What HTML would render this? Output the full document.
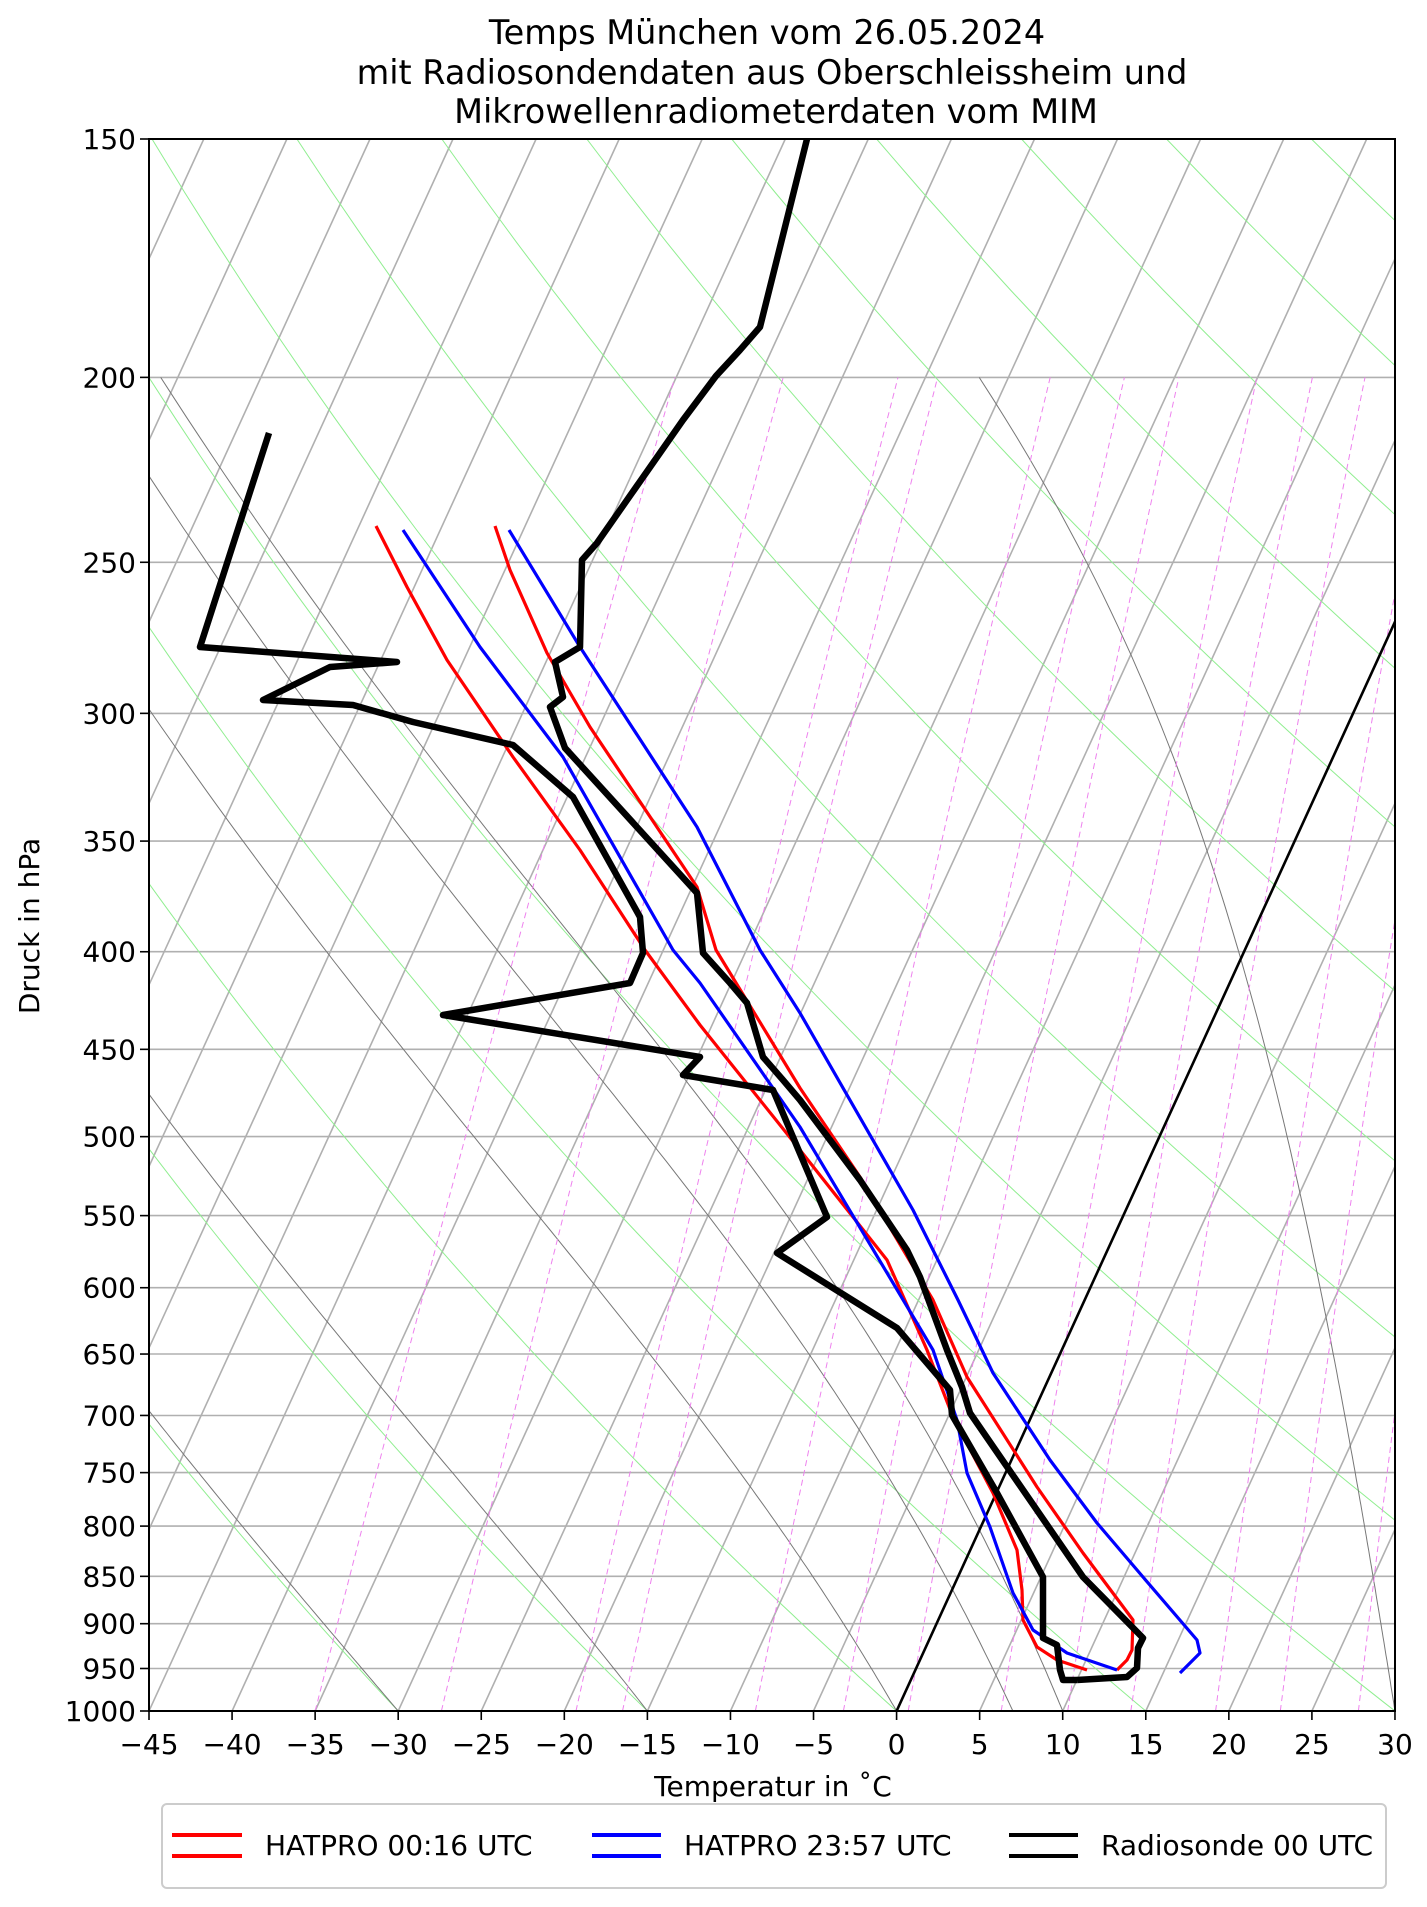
<!DOCTYPE html>
<html><head><meta charset="utf-8"><style>
html,body{margin:0;padding:0;background:#fff;}
svg{display:block;}
text{font-family:"DejaVu Sans","Liberation Sans",sans-serif;fill:#000;}
</style></head><body>
<svg id="s" xmlns="http://www.w3.org/2000/svg" width="1427" height="1907" viewBox="0 0 1427 1907">
<defs><clipPath id="c"><rect x="149" y="139" width="1246" height="1572"/></clipPath></defs>
<rect width="1427" height="1907" fill="#fff"/>
<g id="bg" clip-path="url(#c)"></g>
<g id="data" clip-path="url(#c)" fill="none" stroke-linejoin="round"></g>
<g id="ax"></g>
<text x="767" y="44" font-size="33.5" text-anchor="middle">Temps München vom 26.05.2024</text>
<text x="772" y="84" font-size="33.5" text-anchor="middle">mit Radiosondendaten aus Oberschleissheim und</text>
<text x="776" y="123" font-size="33.5" text-anchor="middle">Mikrowellenradiometerdaten vom MIM</text>
<text x="773" y="1796" font-size="28" text-anchor="middle">Temperatur in ˚C</text>
<text transform="translate(39,926) rotate(-90)" font-size="28" text-anchor="middle">Druck in hPa</text>
<rect x="162" y="1804" width="1224" height="84" rx="5" fill="#fff" stroke="#cccccc" stroke-width="2"/>
<g stroke-width="4">
<line x1="172" y1="1835" x2="242" y2="1835" stroke="#ff0000"/><line x1="172" y1="1856" x2="242" y2="1856" stroke="#ff0000"/>
<line x1="592" y1="1835" x2="661" y2="1835" stroke="#0000ff"/><line x1="592" y1="1856" x2="661" y2="1856" stroke="#0000ff"/>
<line x1="1009" y1="1835" x2="1078" y2="1835" stroke="#000"/><line x1="1009" y1="1856" x2="1078" y2="1856" stroke="#000"/>
</g>
<text x="265" y="1855" font-size="28">HATPRO 00:16 UTC</text>
<text x="684" y="1855" font-size="28">HATPRO 23:57 UTC</text>
<text x="1101" y="1855" font-size="28">Radiosonde 00 UTC</text>
</svg>
<script>
(function(){
var L=149,R=1395,T=139,B=1711,NS="http://www.w3.org/2000/svg";
var LN=Math.log(1000/150);
function Y(p){return B-(Math.log(1000/p)/LN)*(B-T);}
function X(t,p){return L+(t+45)*16.613+0.4576*(B-Y(p));}
function el(g,tag,a){var e=document.createElementNS(NS,tag);for(var k in a)e.setAttribute(k,a[k]);g.appendChild(e);return e;}
var bg=document.getElementById('bg'),ax=document.getElementById('ax'),dg=document.getElementById('data');
function poly(g,pts,st){var d=pts.map(function(q,i){return (i?'L':'M')+q[0].toFixed(1)+' '+q[1].toFixed(1);}).join('');st.d=d;st.fill='none';el(g,'path',st);}
for(var t=-150;t<=30;t+=5){poly(bg,[[X(t,1000),Y(1000)],[X(t,150),Y(150)]],{stroke:'#b0b0b0','stroke-width':1.6});}
var P=[150,200,250,300,350,400,450,500,550,600,650,700,750,800,850,900,950,1000];
P.forEach(function(p){poly(bg,[[L,Y(p)],[R,Y(p)]],{stroke:'#b0b0b0','stroke-width':1.6});});
for(var th=-30;th<=300;th+=15){var pts=[];for(var p=1000;p>=150;p-=10){var Tk=(th+273.15)*Math.pow(p/1000,0.2857)-273.15;pts.push([X(Tk,p),Y(p)]);}poly(bg,pts,{stroke:'#90ee90','stroke-width':1});}
function es(Tk){var tc=Tk-273.15;return 6.112*Math.exp(17.67*tc/(tc+243.5));}
function dTdp(Tk,p){var e=es(Tk),rs=0.622*e/(p-e),Rd=287.04,Cp=1005.7,Lv=2.501e6;return (Rd*Tk+Lv*rs)/(p*(Cp+Lv*Lv*rs*0.622/(Rd*Tk*Tk)));}
[-30,-15,0,7,10,30,40].forEach(function(t0){var Tk=t0+273.15,pts=[[X(t0,1000),Y(1000)]],h=-5;for(var p=1000;p>200;p+=h){var k1=dTdp(Tk,p),k2=dTdp(Tk+h*k1/2,p+h/2);Tk+=h*k2;pts.push([X(Tk-273.15,p+h),Y(p+h)]);}poly(bg,pts,{stroke:'#777','stroke-width':1});});
[-35,-27.4,-19.3,-16.5,-8.5,-3.2,0.7,6.3,10.3,14.1,19.2,23.1,27.8].forEach(function(td){var e0=6.112*Math.exp(17.67*td/(td+243.5)),w=0.622*e0/(1000-e0);var pts=[];for(var p=1000;p>=200;p-=10){var e=w*p/(0.622+w),l=Math.log(e/6.112),tdp=243.5*l/(17.67-l);pts.push([X(tdp,p),Y(p)]);}poly(bg,pts,{stroke:'#ee82ee','stroke-width':1,'stroke-dasharray':'6,4'});});
poly(dg,[[X(0,1000),Y(1000)],[X(0,150),Y(150)]],{stroke:'#000','stroke-width':2.6});
var redL=[[376,526],[407,587],[447,660],[513,757],[580,850],[645,950],[700,1025],[800,1150],[887,1260],[927,1350],[953,1417],[993,1493],[1017,1550],[1022,1590],[1023,1620],[1037,1647],[1057,1660],[1087,1670]];
var redR=[[495,526],[510,570],[547,653],[590,727],[697,887],[716,950],[800,1088],[860,1177],[933,1300],[967,1377],[1037,1487],[1083,1553],[1133,1620],[1132,1650],[1127,1660],[1117,1670]];
var bluL=[[403,530],[480,647],[563,757],[673,950],[700,983],[800,1127],[933,1350],[957,1420],[967,1473],[990,1527],[1013,1593],[1033,1630],[1067,1653],[1117,1670]];
var bluR=[[509,530],[580,647],[697,827],[760,950],[800,1013],[913,1210],[958,1300],[993,1373],[1050,1460],[1097,1523],[1143,1577],[1197,1640],[1200,1653],[1180,1673]];
var tmp=[[807,139],[760,327],[740,350],[716,376],[683,420],[597,543],[582,560],[580,647],[555,662],[563,697],[550,707],[565,748],[697,893],[703,953],[730,983],[747,1003],[763,1057],[783,1080],[800,1100],[860,1180],[907,1250],[920,1277],[947,1350],[962,1387],[970,1413],[1083,1577],[1143,1638],[1138,1648],[1137,1668],[1127,1677],[1077,1680]];
var dew=[[269,433],[200,647],[397,662],[330,667],[263,700],[353,705],[413,722],[513,745],[573,797],[640,917],[643,953],[630,983],[443,1015],[700,1057],[683,1075],[773,1090],[827,1217],[777,1253],[897,1328],[950,1390],[952,1415],[997,1493],[1043,1577],[1043,1638],[1057,1645],[1060,1670],[1063,1680],[1077,1680]];
poly(dg,redL,{stroke:'#ff0000','stroke-width':3.2});
poly(dg,redR,{stroke:'#ff0000','stroke-width':3.2});
poly(dg,bluL,{stroke:'#0000ff','stroke-width':3.2});
poly(dg,bluR,{stroke:'#0000ff','stroke-width':3.2});
poly(dg,tmp,{stroke:'#000','stroke-width':6.5});
poly(dg,dew,{stroke:'#000','stroke-width':6.5});
el(ax,'rect',{x:L,y:T,width:R-L,height:B-T,fill:'none',stroke:'#000','stroke-width':2});
P.forEach(function(p){var y=Y(p);el(ax,'line',{x1:L-9,y1:y,x2:L,y2:y,stroke:'#000','stroke-width':1.6});var tx=el(ax,'text',{x:L-13,y:y+10,'font-size':28,'text-anchor':'end'});tx.textContent=p;});
for(var t=-45;t<=30;t+=5){var x=L+(t+45)*16.613;el(ax,'line',{x1:x,y1:B,x2:x,y2:B+9,stroke:'#000','stroke-width':1.6});var tx=el(ax,'text',{x:x,y:B+43,'font-size':28,'text-anchor':'middle'});tx.textContent=(t<0?'\u2212'+(-t):t);}
})();
</script>
</body></html>
